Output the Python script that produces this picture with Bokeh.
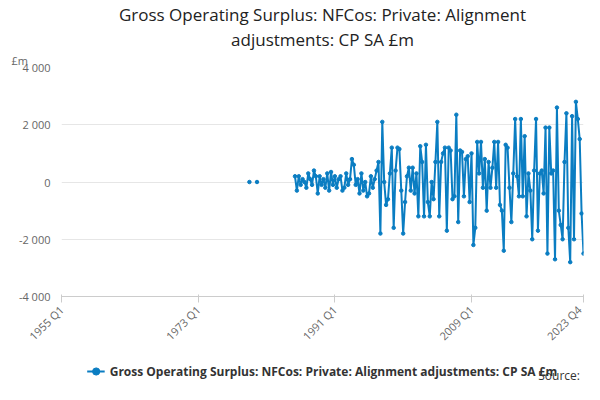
import numpy as np
from bokeh.plotting import figure
from bokeh.layouts import column
from bokeh.models import Legend, LegendItem, Label, FixedTicker, Title
from bokeh.embed import file_html
from bokeh.resources import INLINE

start_year = 1955
n_quarters = 276
isolated = {99: 0, 103: 0}
first_idx = 123  # 1985 Q4
values = [200,
 -300, 200, -100, 100,  0, -200, 300, 100,  -100, 400, 200, -400,  200, -100, 100, -200,
 300, -300, 350, -100,  200, -200, 100, 200,  -300, -200, 300, -100,  100, 800, 600, -100,
 100, -400, 300, -300,  0, -500, -400, 200,  -200, 100, 400, 700,  -1800, 2100, 0, -800,
 -600, 300, 1200, -1600,  400, 1200, 1150, -300,  -1800, -700, 200, 500,  -300, 500, -400, 300,
 -1200, 1250, 700, -1200,  1300, -700, -1200, 0,  -600, 700, 2100, -1200,  700, 1000, 1200, -1700,
 1200, 1100, -600, -500,  2350, -1400, 1100, 1050,  -500, 800, 900, -700,  1000, -2200, -1600, 1400,
 300, 1400, -200, 800,  -1000, 700, -200, 500,  1400, -200, 1400, -800,  -1000, -2400, 1300, 1200,
 -200, -1400, 300, 2200,  200, -500, 2200, -500,  1600, -1200, 300, -300,  -2000, 400, 2200, -1700,
 300, 400, -400, 1900,  -2500, 1900, 300, 400,  -2700, 2600, -1000, -1500,  -2000, 700, 2400, -1600,
 -2800, 2300, -2000, 2800,  2200, 1500, -1100, -2500]
tick_idx = [0, 72, 144, 216, 275]
tick_labels = ["1955 Q1", "1973 Q1", "1991 Q1", "2009 Q1", "2023 Q4"]
y_ticks = [-4000, -2000, 0, 2000, 4000]
y_labels = ["-4 000", "-2 000", "0", "2 000", "4 000"]
series_name = "Gross Operating Surplus: NFCos: Private: Alignment adjustments: CP SA £m"

y = np.full(n_quarters, np.nan)
for k, v in isolated.items():
    y[k] = v
y[first_idx:first_idx + len(values)] = values
x = np.arange(n_quarters)

color = "#0a7dc2"
p = figure(width=584, height=351, output_backend="svg", toolbar_location=None,
           x_range=(0, 275), y_range=(-4000, 4000),
           min_border_left=61, min_border_right=1, min_border_top=0, min_border_bottom=0)
p.line(x, y, line_color=color, line_width=2)
p.scatter(x, y, size=3.5, color=color)

p.xaxis.ticker = FixedTicker(ticks=tick_idx)
p.xaxis.major_label_overrides = dict(zip(tick_idx, tick_labels))
p.xaxis.major_label_orientation = np.pi / 4
p.yaxis.ticker = FixedTicker(ticks=y_ticks)
p.yaxis.major_label_overrides = dict(zip(y_ticks, y_labels))
for ax in (p.xaxis, p.yaxis):
    ax.major_label_text_color = "#666666"
    ax.major_label_text_font_size = "11px"
    ax.major_label_text_font = "Open Sans"
p.yaxis.axis_line_color = None
p.yaxis.major_tick_line_color = None
p.yaxis.minor_tick_line_color = None
p.xaxis.minor_tick_line_color = None
p.xaxis.axis_line_color = "#cccccc"
p.xaxis.major_tick_line_color = "#cccccc"
p.xgrid.grid_line_color = None
p.ygrid.grid_line_color = "#e6e6e6"
p.outline_line_color = None

p.add_layout(Title(text="£m", align="left", text_font_size="11px", text_font_style="normal",
                   text_color="#666666", text_font="Open Sans", offset=-50, standoff=0), "above")
for line in ["adjustments: CP SA £m", "Gross Operating Surplus: NFCos: Private: Alignment"]:
    p.add_layout(Title(text=line, align="center", text_font_size="17px", text_font_style="normal",
                       text_color="#222222", text_font="Open Sans", standoff=0), "above")

# legend strip
q = figure(width=584, height=33, output_backend="svg", toolbar_location=None,
           x_range=(0, 584), y_range=(0, 33), min_border=0)
q.axis.visible = False
q.grid.visible = False
q.outline_line_color = None
ln = q.line(x - 1000, y, line_color=color, line_width=2)
sc = q.scatter(x - 1000, y, size=3.5, color=color)
leg = Legend(items=[LegendItem(label=series_name, renderers=[ln, sc])],
             location="top_center", orientation="horizontal", border_line_color=None,
             background_fill_alpha=0,
             label_text_font_size="12px", label_text_font="Open Sans", label_text_font_style="bold",
             label_text_color="#333333", padding=0, margin=10, glyph_width=18)
q.add_layout(leg)
q.add_layout(Label(x=580, y=1, text="Source:", text_align="right", text_baseline="bottom",
                   text_font_size="12px", text_color="#333333", text_font="Open Sans"))
open("out.html", "w").write(file_html(column(p, q, spacing=0), INLINE))
